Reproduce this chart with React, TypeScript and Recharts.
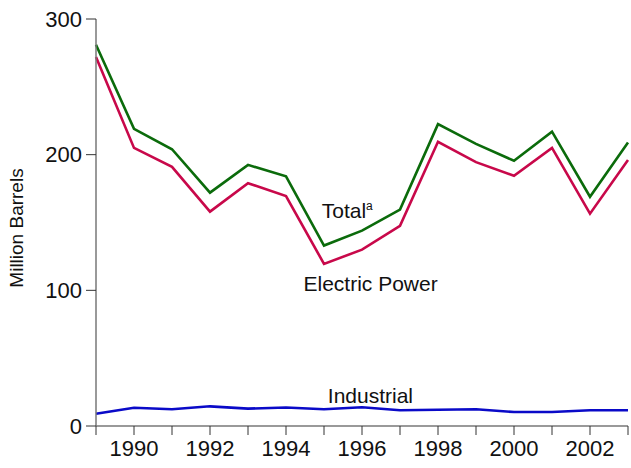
import React from 'react';
import { LineChart, Line, XAxis, YAxis, ReferenceDot } from 'recharts';

const years = [1989, 1990, 1991, 1992, 1993, 1994, 1995, 1996, 1997, 1998, 1999, 2000, 2001, 2002, 2003];
const total = [281, 219, 204, 172, 192.5, 184, 133, 144, 159.5, 222.5, 208, 195.5, 217, 169, 209];
const electricPower = [272, 205, 191, 158, 179, 169.5, 119.5, 130, 147.5, 209.5, 194.5, 184.5, 205, 156.5, 196];
const industrial = [9, 13.5, 12.3, 14.5, 12.8, 13.6, 12.3, 13.8, 11.6, 12, 12.3, 10.3, 10.3, 11.6, 11.6];
const yTicks = [0, 100, 200, 300];
const xLabelYears = [1990, 1992, 1994, 1996, 1998, 2000, 2002];

const data = years.map((y, i) => ({
  year: y,
  total: total[i],
  electric: electricPower[i],
  industrial: industrial[i],
}));

const FONT = 'Liberation Sans, Arial, Helvetica, sans-serif';

const textLabel = (text: string, sup?: string) => (props: any) => {
  const vb = props.viewBox || {};
  return (
    <text x={vb.x} y={vb.y} fontFamily={FONT} fontSize={21} fill="#111" textAnchor="start">
      {text}
      {sup ? (
        <tspan fontSize={12} dy={-8}>{sup}</tspan>
      ) : null}
    </text>
  );
};

export default function App() {
  return (
    <div style={{ position: 'absolute', left: 0, top: 0, width: 631, height: 468, background: '#fff' }}>
      <LineChart width={631} height={468} data={data} margin={{ top: 19, right: 3, bottom: 0, left: 0 }}>
        <XAxis
          dataKey="year"
          type="number"
          domain={[1989, 2003]}
          ticks={years}
          interval={0}
          tickFormatter={(v: number) => (xLabelYears.includes(v) ? String(v) : '')}
          height={42}
          tickSize={9}
          tickMargin={5}
          axisLine={{ stroke: '#777', strokeWidth: 1.5 }}
          tickLine={{ stroke: '#333', strokeWidth: 1 }}
          tick={{ fontFamily: FONT, fontSize: 22, fill: '#111' }}
        />
        <YAxis
          type="number"
          domain={[0, 300]}
          ticks={yTicks}
          width={96}
          tickSize={10}
          tickMargin={4}
          axisLine={{ stroke: '#777', strokeWidth: 1.5 }}
          tickLine={{ stroke: '#333', strokeWidth: 1 }}
          tick={{ fontFamily: FONT, fontSize: 22, fill: '#111' }}
          label={{
            content: () => (
              <text
                x={23}
                y={228}
                transform="rotate(-90 23 228)"
                textAnchor="middle"
                fontFamily={FONT}
                fontSize={19}
                fill="#111"
              >
                Million Barrels
              </text>
            ),
          }}
        />
        <Line type="linear" dataKey="total" stroke="#0b6b0b" strokeWidth={2.6} dot={false} isAnimationActive={false} />
        <Line type="linear" dataKey="electric" stroke="#c8084a" strokeWidth={2.6} dot={false} isAnimationActive={false} />
        <Line type="linear" dataKey="industrial" stroke="#0a0ac8" strokeWidth={2.6} dot={false} isAnimationActive={false} />
        <ReferenceDot x={1994.94} y={153} r={0} stroke="none" fill="none" label={{ content: textLabel('Total', 'a') }} />
        <ReferenceDot x={1994.46} y={99.4} r={0} stroke="none" fill="none" label={{ content: textLabel('Electric Power') }} />
        <ReferenceDot x={1995.1} y={17} r={0} stroke="none" fill="none" label={{ content: textLabel('Industrial') }} />
      </LineChart>
    </div>
  );
}
